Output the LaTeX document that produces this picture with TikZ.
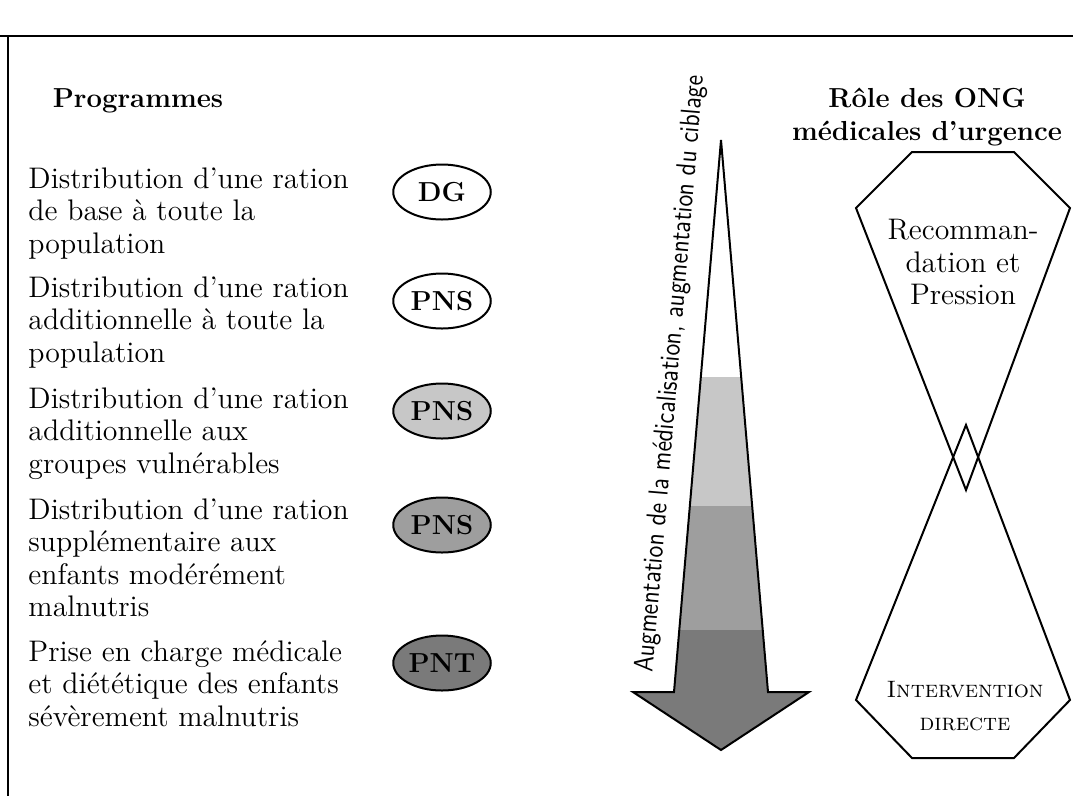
\documentclass[tikz,border=0pt]{standalone}
\usepackage{fontspec}
\newfontfamily\axisfont[FakeStretch=0.86]{lmsans10-regular.otf}
\usetikzlibrary{shapes.geometric,positioning}

\colorlet{lightband}{black!22}
\colorlet{midband}{black!38}
\colorlet{darkband}{black!52}

\begin{document}
\begin{tikzpicture}[x=0.4pt,y=-0.4pt,
  font=\fontsize{11.9}{13}\selectfont,
  heading/.style={font=\fontsize{11}{13}\selectfont\bfseries,align=center},
  item/.style={anchor=north west,inner sep=0pt,align=left},
  prog/.style={ellipse,draw,line width=0.8pt,minimum width=39pt,minimum height=22pt,inner sep=0pt,font=\fontsize{11}{13}\selectfont\bfseries},
  role/.style={align=center,inner sep=0pt},
  outline/.style={line width=0.8pt,line join=miter},
]
  \useasboundingbox (0,0) rectangle (1073,796);

  % frame
  \draw[line width=0.7pt] (0,36) -- (1073,36);
  \draw[line width=0.7pt] (8,36) -- (8,796);

  % left column: programmes
  \node[heading,anchor=west] (progt) at (44,101) {Programmes};

  \node[item] (t1) at (28,167) {Distribution d’une ration\\de base à toute la\\population};
  \node[item] (t2) at (28,276) {Distribution d’une ration\\additionnelle à toute la\\population};
  \node[item] (t3) at (28,387) {Distribution d’une ration\\additionnelle aux\\groupes vulnérables};
  \node[item] (t4) at (28,498) {Distribution d’une ration\\supplémentaire aux\\enfants modérément\\malnutris};
  \node[item] (t5) at (28,640) {Prise en charge médicale\\et diététique des enfants\\sévèrement malnutris};

  \node[prog,fill=white] (dg) at (442,192) {DG};
  \node[prog,fill=white] (pnsa) at (442,301) {PNS};
  \node[prog,fill=lightband] (pnsb) at (442,411) {PNS};
  \node[prog,fill=midband] (pnsc) at (442,525) {PNS};
  \node[prog,fill=darkband] (pnt) at (442,663) {PNT};

  % arrow of increasing targeting
  \fill[lightband] (701,377) -- (741,377) -- (752,506) -- (690,506) -- cycle;
  \fill[midband] (690,506) -- (752,506) -- (763,630) -- (679,630) -- cycle;
  \fill[darkband] (679,630) -- (763,630) -- (768,692) -- (809,692) -- (721,750)
    -- (633,692) -- (674,692) -- cycle;
  \draw[outline] (721,140) -- (768,692) -- (809,692) -- (721,750) -- (633,692)
    -- (674,692) -- cycle;
  \node[rotate=85.15,font=\axisfont\fontsize{11}{13}\selectfont] (axis) at (671,374)
    {Augmentation de la médicalisation, augmentation du ciblage};

  % right column: role of the NGOs
  \node[heading] (ongt) at (927,117) {Rôle des ONG\\médicales d’urgence};

  \draw[outline] (912,152) -- (1014,152) -- (1070,208) -- (966,490) -- (856,208) -- cycle;
  \draw[outline] (966,425) -- (1070,700) -- (1014,758) -- (912,758) -- (856,700) -- cycle;

  \node[role] (rec) at (963,262) {Recomman-\\dation et\\Pression};
  \node[role,font=\fontsize{9.5}{13}\selectfont] (int) at (965,706) {\textsc{Intervention}\\\textsc{directe}};
\end{tikzpicture}
\end{document}
